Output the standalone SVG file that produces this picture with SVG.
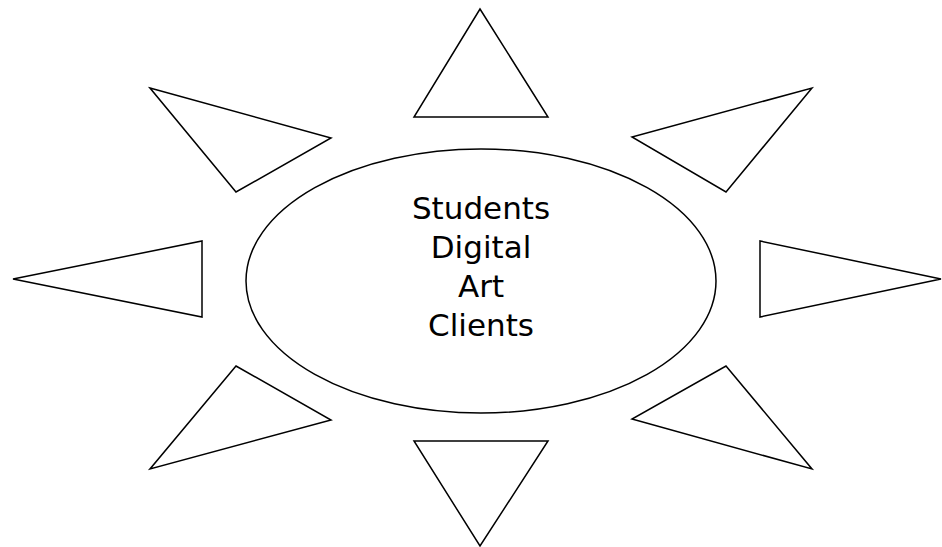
<svg xmlns="http://www.w3.org/2000/svg" width="942" height="547" viewBox="0 0 942 547">
<style>
.s{fill:#fff;stroke:#000;stroke-width:1.5;stroke-linejoin:miter}
.t{font-family:"DejaVu Sans",Verdana,sans-serif;font-size:31px;fill:#000;text-anchor:middle}
</style>
<rect width="942" height="547" fill="#fff"/>
<g id="center">
<ellipse class="s" cx="481" cy="281" rx="235" ry="132"/>
<text class="t" x="481" y="219">Students</text>
<text class="t" x="481" y="258">Digital</text>
<text class="t" x="481" y="297">Art</text>
<text class="t" x="481" y="336">Clients</text>
</g>
<g id="tri-top"><polygon class="s" points="480,9 548,117 414,117"/></g>
<g id="tri-topleft"><polygon class="s" points="150,88 331,138 236,192"/></g>
<g id="tri-topright"><polygon class="s" points="812,88 726,192 632,137"/></g>
<g id="tri-left"><polygon class="s" points="13,279 202,241 202,317"/></g>
<g id="tri-right"><polygon class="s" points="941,279 760,317 760,241"/></g>
<g id="tri-bottomleft"><polygon class="s" points="236,366 331,420 150,469"/></g>
<g id="tri-bottomright"><polygon class="s" points="726,366 812,469 632,419"/></g>
<g id="tri-bottom"><polygon class="s" points="414,441 548,441 480,546"/></g>
<g id="connectors"></g>
</svg>
